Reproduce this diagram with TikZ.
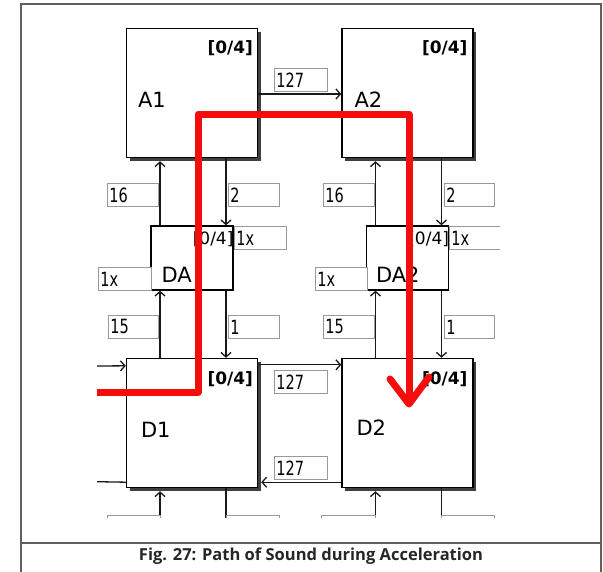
\documentclass[tikz,border=0pt]{standalone}
\usepackage{fontspec}
\usepackage{graphicx}
\setmainfont{DejaVu Sans}
\newfontfamily\capfont{Open Sans}
\usetikzlibrary{arrows.meta,calc}
\definecolor{pathred}{RGB}{245,12,12}
\definecolor{framegray}{RGB}{95,95,95}
\newcommand\ys[1]{\scalebox{1}[1.35]{#1}}
\tikzset{
  mainbox/.style={draw=black, line width=1.4pt, fill=white, minimum width=131pt, minimum height=129pt, inner sep=0pt,
    preaction={fill=black!75, transform canvas={shift={(3pt,-3pt)}}}},
  dabox/.style={draw=black, line width=1.3pt, fill=white, minimum width=82pt, minimum height=64pt, inner sep=0pt},
  conn/.style={draw=black!90, line width=1.3pt, -{Straight Barb[length=4.5pt,width=10pt]}},
  plain/.style={draw=black!90, line width=1.3pt},
  lab/.style={draw=black!40, fill=white, line width=0.8pt, inner xsep=2pt, inner ysep=0pt, minimum height=23pt,
    anchor=north west, align=left, font=\fontsize{14.5}{14.5}\selectfont},
  bigname/.style={anchor=west, inner sep=0pt, font=\fontsize{21}{21}\selectfont},
  tagbold/.style={anchor=east, inner sep=0pt, font=\fontsize{17}{17}\selectfont\bfseries},
  tagreg/.style={anchor=east, inner sep=0pt, font=\fontsize{17}{17}\selectfont},
  redpath/.style={draw=pathred, line width=7pt, line join=round, line cap=round}
}
\begin{document}
\begin{tikzpicture}[x=1pt,y=-1pt]
\useasboundingbox (0,0) rectangle (603,571);
% frame
\draw[framegray, line width=2pt] (21,572) -- (21,4) -- (601,4) -- (601,572);
\draw[framegray, line width=1.5pt] (21,543) -- (601,543);
\node[inner sep=0pt, text=black!85] (cap) at (311,556)
  {\resizebox{344pt}{!}{\capfont\bfseries Fig. 27: Path of Sound during Acceleration}};

\begin{scope}
\clip (97,0) rectangle (500,517);
% main boxes
\node[mainbox] (A1) at (192,93) {};
\node[mainbox] (A2) at (407.5,93) {};
\node[mainbox] (D1) at (192,423) {};
\node[mainbox] (D2) at (407.5,423) {};
\node[dabox] (DA) at (192,258) {};
\node[dabox] (DB) at (407.5,258) {};

% outside coordinates
\coordinate (inl) at (97,366);
\coordinate (outl) at (97,481.7);
\coordinate (bu1) at (160,520);
\coordinate (bd1) at (226,520);
\coordinate (bu2) at (375.5,520);
\coordinate (bd2) at (441.5,520);

% vertical connectors column 1
\draw[conn] ($(DA.north)+(-32,0)$) -- ($(A1.south)+(-32,3)$);
\draw[conn] ($(A1.south)+(34,0)$) -- ($(DA.north)+(34,0)$);
\draw[conn] ($(D1.north)+(-32,0)$) -- ($(DA.south)+(-32,0)$);
\draw[conn] ($(DA.south)+(34,0)$) -- ($(D1.north)+(34,0)$);
\draw[conn] (bu1) -- ($(D1.south)+(-32,3)$);
\draw[plain] ($(D1.south)+(34,0)$) -- (bd1);
% vertical connectors column 2
\draw[conn] ($(DB.north)+(-32,0)$) -- ($(A2.south)+(-32,3)$);
\draw[conn] ($(A2.south)+(34,0)$) -- ($(DB.north)+(34,0)$);
\draw[conn] ($(D2.north)+(-32,0)$) -- ($(DB.south)+(-32,0)$);
\draw[conn] ($(DB.south)+(34,0)$) -- ($(D2.north)+(34,0)$);
\draw[conn] (bu2) -- ($(D2.south)+(-32,3)$);
\draw[plain] ($(D2.south)+(34,0)$) -- (bd2);
% horizontal connectors
\draw[conn] ($(A1.east)+(0,1)$) -- ($(A2.west)+(0,1)$);
\draw[conn] ($(D1.north east)+(0,7)$) -- ($(D2.north west)+(0,7)$);
\draw[conn] ($(D2.south west)+(0,-6)$) -- ($(D1.south east)+(3,-6)$);
\draw[conn] (inl) -- ($(D1.north west)+(0,8)$);
\draw[plain] ($(D1.south west)+(0,-6)$) -- (outl);

% label boxes
\node[lab, text width=47pt] (l16a) at (107,183) {\ys{16}};
\node[lab, text width=47pt] (l2a) at (228,183) {\ys{2}};
\node[lab, text width=47pt] (l16b) at (323,183) {\ys{16}};
\node[lab, text width=46pt] (l2b) at (444,183) {\ys{2}};
\node[lab, text width=48pt] (l1xa) at (234,226) {\ys{1x}};
\node[lab, text width=48pt] (l1xb) at (449,226) {\ys{1x}};
\node[lab, text width=49pt] (l1xc) at (98,267) {\ys{1x}};
\node[lab, text width=48pt] (l1xd) at (315,267) {\ys{1x}};
\node[lab, text width=46pt] (l15a) at (108,315) {\ys{15}};
\node[lab, text width=47pt] (l1a) at (228,315) {\ys{1}};
\node[lab, text width=47pt] (l15b) at (323,315) {\ys{15}};
\node[lab, text width=46pt] (l1b) at (444,315) {\ys{1}};
\node[lab, text width=49pt] (l127a) at (274,68) {\ys{127}};
\node[lab, text width=49pt] (l127b) at (274,370) {\ys{127}};
\node[lab, text width=49pt] (l127c) at (274,456) {\ys{127}};
\node[lab, text width=49pt] (s1) at (107,515) {};
\node[lab, text width=49pt] (s2) at (226,515) {};
\node[lab, text width=50pt] (s3) at (321,515) {};
\node[lab, text width=49pt] (s4) at (441,515) {};

% box texts
\node[bigname] (A1n) at ($(A1.north west)+(12,72)$) {A1};
\node[tagbold] (A1t) at ($(A1.north east)+(-5,20)$) {[0/4]};
\node[bigname] (A2n) at ($(A2.north west)+(13,72)$) {A2};
\node[tagbold] (A2t) at ($(A2.north east)+(-6,20)$) {[0/4]};
\node[bigname] (D1n) at ($(D1.north west)+(15,72)$) {D1};
\node[tagbold] (D1t) at ($(D1.north east)+(-5,21)$) {[0/4]};
\node[bigname] (D2n) at ($(D2.north west)+(15,70)$) {D2};
\node[tagbold] (D2t) at ($(D2.north east)+(-6,21)$) {[0/4]};
\node[bigname] (DAn) at ($(DA.north west)+(11,49)$) {DA};
\node[tagreg] (DAt) at ($(DA.north east)+(0,14)$) {[0/4]};
\node[bigname] (DBn) at ($(DB.north west)+(10,49)$) {DA2};
\node[tagreg] (DBt) at ($(DB.north east)+(0,14)$) {[0/4]};

% red path
\coordinate (r0) at (97,392);
\coordinate (r1) at (198,392);
\coordinate (r2) at (198,114);
\coordinate (r3) at (409,114);
\coordinate (r4) at (409,404);
\coordinate (rl) at (390,379);
\coordinate (rr) at (429,377);
\draw[redpath, line cap=butt] (r0) -- (r1) -- (r2) -- (r3) -- (r4);
\draw[redpath] (rl) -- (r4) -- (rr);
\end{scope}
\end{tikzpicture}
\end{document}
